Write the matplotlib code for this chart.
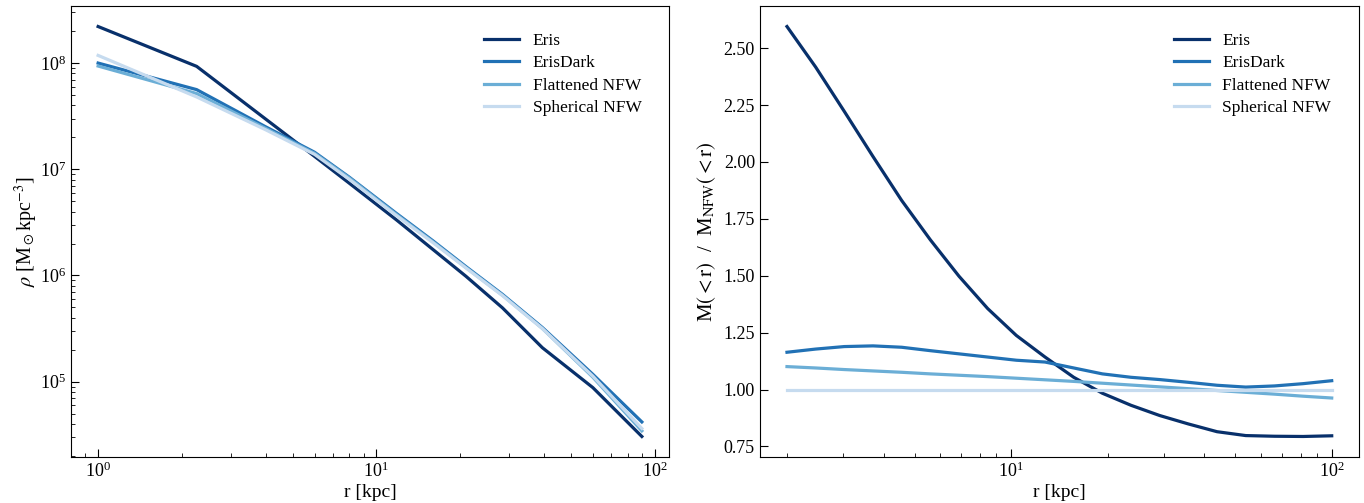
import numpy as np
import matplotlib
matplotlib.use('Agg')
import matplotlib.pyplot as plt

plt.rcParams['font.family'] = ['Liberation Serif', 'DejaVu Serif']
plt.rcParams['mathtext.fontset'] = 'stix'

labels = ['Eris', 'ErisDark', 'Flattened NFW', 'Spherical NFW']
colors = ['#08306b', '#2171b5', '#6baed6', '#c6dbef']

# left panel: density profiles (log10 rho)
r_rho = [1.0, 2.26, 4.0, 6.0, 8.0, 11.8, 16.0, 21.0, 28.4, 39.5, 60.0, 90.0]
logrho_eris = [8.344, 7.969, 7.473, 7.121, 6.868, 6.524, 6.243, 5.992, 5.695, 5.320, 4.944, 4.484]
logrho_erisdark = [8.000, 7.750, 7.400, 7.160, 6.925, 6.585, 6.325, 6.083, 5.822, 5.510, 5.069, 4.621]
logrho_flat = [7.972, 7.713, 7.385, 7.150, 6.918, 6.575, 6.316, 6.075, 5.815, 5.502, 5.042, 4.537]
logrho_sph = [8.072, 7.681, 7.372, 7.140, 6.905, 6.565, 6.308, 6.070, 5.810, 5.500, 5.052, 4.559]

# right panel: enclosed mass ratio
r_mass = [2.0, 2.457, 3.019, 3.709, 4.557, 5.599, 6.879, 8.452, 10.38, 12.76,
          15.68, 19.26, 23.66, 29.08, 35.72, 43.88, 53.92, 66.24, 81.39, 100.0]
ratio_eris = [2.595, 2.417, 2.222, 2.024, 1.831, 1.658, 1.498, 1.356, 1.238, 1.143,
              1.054, 0.984, 0.931, 0.886, 0.849, 0.815, 0.798, 0.795, 0.794, 0.797]
ratio_erisdark = [1.164, 1.178, 1.189, 1.192, 1.186, 1.171, 1.157, 1.143, 1.129, 1.121,
                  1.095, 1.069, 1.054, 1.044, 1.032, 1.019, 1.011, 1.016, 1.026, 1.039]
ratio_flat = [1.101, 1.095, 1.088, 1.082, 1.076, 1.069, 1.063, 1.057, 1.050, 1.043,
              1.036, 1.028, 1.020, 1.012, 1.004, 0.996, 0.988, 0.980, 0.971, 0.963]
ratio_sph = [1.0] * 20


def style_axis(ax):
    ax.tick_params(which='both', direction='in', labelsize=13)
    ax.tick_params(which='major', length=6)
    ax.tick_params(which='minor', length=3)


def add_legend(ax):
    ax.legend(loc='upper right', frameon=False, fontsize=12.5,
              bbox_to_anchor=(0.98, 0.975), handlelength=2.0, labelspacing=0.36)


def main():
    fig = plt.figure(figsize=(13.64, 5.03), dpi=100)
    ax1 = fig.add_axes([0.052, 0.0915, 0.4385, 0.8965])
    ax2 = fig.add_axes([0.557, 0.0915, 0.4393, 0.8965])

    rho_sets = [logrho_eris, logrho_erisdark, logrho_flat, logrho_sph]
    for vals, c, lab in zip(rho_sets, colors, labels):
        ax1.plot(r_rho, 10 ** np.array(vals), color=c, lw=2.3, label=lab)
    ax1.set_xscale('log')
    ax1.set_yscale('log')
    ax1.set_xlabel('r [kpc]', fontsize=14, labelpad=2)
    ax1.set_ylabel(r'$\rho$ [M$_\odot$kpc$^{-3}$]', fontsize=14.5, labelpad=0)
    style_axis(ax1)
    add_legend(ax1)

    ratio_sets = [ratio_eris, ratio_erisdark, ratio_flat, ratio_sph]
    for vals, c, lab in zip(ratio_sets, colors, labels):
        ax2.plot(r_mass, vals, color=c, lw=2.3, label=lab)
    ax2.set_xscale('log')
    ax2.set_xlabel('r [kpc]', fontsize=14, labelpad=2)
    ax2.set_ylabel(r'M$(<{\rm r})$  /  M$_{\rm NFW}(<{\rm r})$', fontsize=15, labelpad=4)
    style_axis(ax2)
    add_legend(ax2)

    fig.savefig('out.png', dpi=100)


if __name__ == '__main__':
    main()
